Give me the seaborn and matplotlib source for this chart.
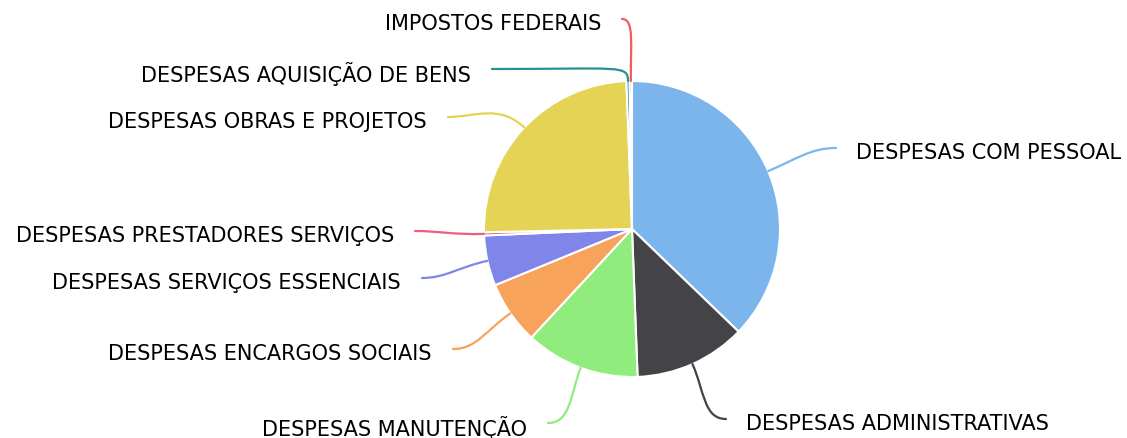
import numpy as np
import matplotlib
matplotlib.use("Agg")
import matplotlib.pyplot as plt
from matplotlib.path import Path
from matplotlib.patches import PathPatch
import seaborn as sns

# slice data (share of total, %), in drawing order (clockwise from top)
categories = [
    "DESPESAS COM PESSOAL",
    "DESPESAS ADMINISTRATIVAS",
    "DESPESAS MANUTENÇÃO",
    "DESPESAS ENCARGOS SOCIAIS",
    "DESPESAS SERVIÇOS ESSENCIAIS",
    "DESPESAS PRESTADORES SERVIÇOS",
    "DESPESAS OBRAS E PROJETOS",
    "DESPESAS AQUISIÇÃO DE BENS",
    "IMPOSTOS FEDERAIS",
]
values = [37.2, 12.2, 12.5, 6.9, 5.5, 0.35, 24.75, 0.35, 0.25]
colors = ["#7cb5ec", "#434348", "#90ed7d", "#f7a35c", "#8085e9",
          "#f15c80", "#e4d354", "#2b908f", "#f45b5b"]

# layout (pixels, origin top-left): connector end, label side, curve shape
W, H = 1127, 439
CX, CY, R = 632, 230, 148
label_end = [(836, 149), (726, 420), (548, 424), (453, 350), (422, 279),
             (415, 232), (448, 118), (492, 70), (622, 20)]
label_side = ["left", "left", "right", "right", "right",
              "right", "right", "right", "right"]
curve = [(0.45, 0.35)] * 7 + [(0.12, 0.95), (0.6, 0.2)]

sns.set_theme(style="white")
plt.rcParams["font.family"] = ["DejaVu Sans"]

fig = plt.figure(figsize=(W / 100, H / 100), dpi=100)
ax = fig.add_axes([0, 0, 1, 1])

ax.pie(values, colors=colors, startangle=90, counterclock=False,
       center=(CX, H - CY), radius=R,
       wedgeprops=dict(edgecolor="white", linewidth=1.5))
ax.set_xlim(0, W)
ax.set_ylim(0, H)
ax.set_aspect("equal")
ax.axis("off")

total = sum(values)
start = 90.0
for name, v, col, (ex, ey), side, (a, b) in zip(categories, values, colors,
                                                label_end, label_side, curve):
    span = v / total * 360
    mid = np.deg2rad(start - span / 2)
    start -= span
    ux, uy = np.cos(mid), np.sin(mid)
    p0 = (CX + R * ux, H - CY + R * uy)
    p3 = (ex, H - ey)
    dist = np.hypot(p3[0] - p0[0], p3[1] - p0[1])
    p1 = (p0[0] + ux * a * dist, p0[1] + uy * a * dist)
    sgn = 1 if side == "left" else -1
    p2 = (p3[0] - sgn * b * dist, p3[1])
    path = Path([p0, p1, p2, p3], [Path.MOVETO, Path.CURVE4, Path.CURVE4, Path.CURVE4])
    ax.add_patch(PathPatch(path, fill=False, edgecolor=col, linewidth=1.6,
                           capstyle="round"))
    tx = ex + 20 if side == "left" else ex - 21
    ax.text(tx, H - ey - 4, name, ha=side, va="center", fontsize=15,
            color="#000000")

fig.savefig("out.png", dpi=100)
